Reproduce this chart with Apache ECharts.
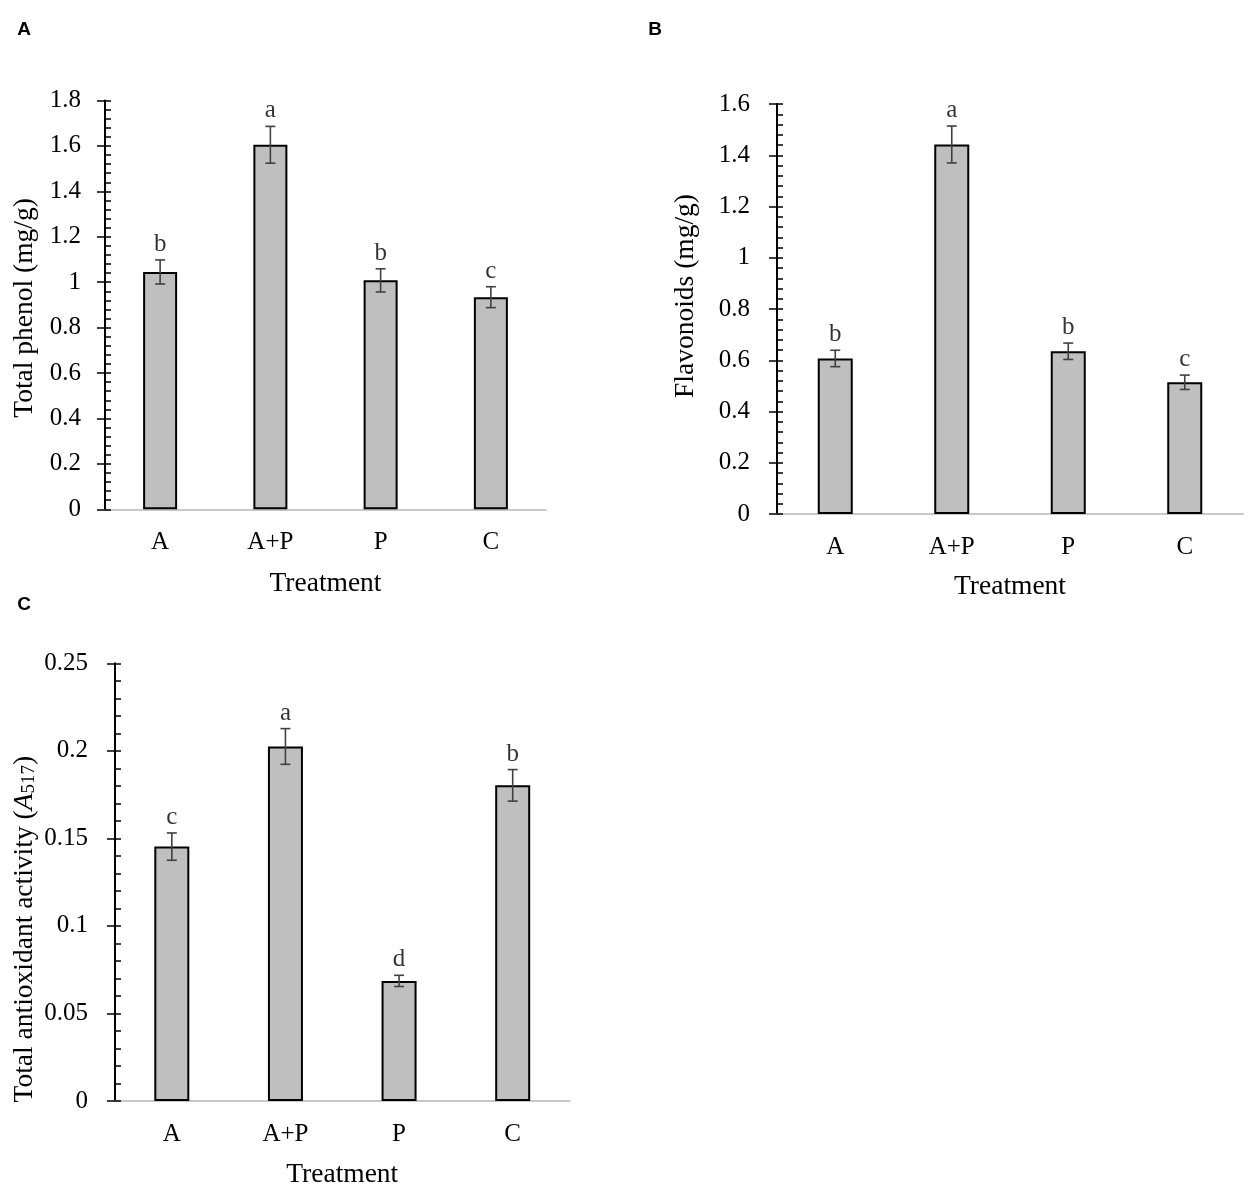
<!DOCTYPE html>
<html><head><meta charset="utf-8">
<script src="https://cdn.jsdelivr.net/npm/echarts@6/dist/echarts.min.js"></script>
<style>html,body{margin:0;padding:0;background:#fff}#c{width:1248px;height:1196px}</style>
</head><body><div id="c"></div>
<script>
// ---- data ----
const categories = ['A', 'A+P', 'P', 'C'];

const phenolMean = [1.045, 1.605, 1.008, 0.934];
const phenolErr = [0.053, 0.081, 0.051, 0.046];
const phenolLetters = ['b', 'a', 'b', 'c'];
const phenolTicks = { min: 0, max: 1.8, interval: 0.2 };

const flavMean = [0.607, 1.442, 0.635, 0.514];
const flavErr = [0.032, 0.072, 0.032, 0.028];
const flavLetters = ['b', 'a', 'b', 'c'];
const flavTicks = { min: 0, max: 1.6, interval: 0.2 };

const antiMean = [0.1453, 0.2025, 0.0686, 0.1803];
const antiErr = [0.0078, 0.0102, 0.0032, 0.0090];
const antiLetters = ['c', 'a', 'd', 'b'];
const antiTicks = { min: 0, max: 0.25, interval: 0.05 };

// ---- layout / style ----
const SERIF = 'Liberation Serif';
const FS = 25;      // tick / category / letter labels
const FT = 27.5;    // axis titles
const panels = [
  { mean: phenolMean, err: phenolErr, letters: phenolLetters, ticks: phenolTicks,
    grid: { left: 105, top: 100.5, width: 441, height: 408.8 },
    barWidth: 34, labelMargin: 24, yName: 'Total phenol (mg/g)', yNameGap: 66, yNamePad: [0, 6, 0, 0],
    xNameGap: 60 },
  { mean: flavMean, err: flavErr, letters: flavLetters, ticks: flavTicks,
    grid: { left: 777, top: 104, width: 466, height: 410 },
    barWidth: 35, labelMargin: 27, yName: 'Flavonoids (mg/g)', yNameGap: 77, yNamePad: [0, 0, 0, 26],
    xNameGap: 59 },
  { mean: antiMean, err: antiErr, letters: antiLetters, ticks: antiTicks,
    grid: { left: 115, top: 663.3, width: 454.5, height: 437.7 },
    barWidth: 35, labelMargin: 27,
    yName: '{n|Total antioxidant activity (}{i|A}{s|517}{n|)}', yNameGap: 76, yNamePad: [0, 94, 0, 0],
    xNameGap: 60 }
];

const option = {
  animation: false,
  backgroundColor: '#fff',
  grid: [], xAxis: [], yAxis: [], series: [],
  graphic: [
    { type: 'text', x: 24, y: 30, style: { text: 'A', font: 'bold 19px "Liberation Sans"', fill: '#000', textAlign: 'center', textVerticalAlign: 'middle' } },
    { type: 'text', x: 655, y: 30, style: { text: 'B', font: 'bold 19px "Liberation Sans"', fill: '#000', textAlign: 'center', textVerticalAlign: 'middle' } },
    { type: 'text', x: 24, y: 605, style: { text: 'C', font: 'bold 19px "Liberation Sans"', fill: '#000', textAlign: 'center', textVerticalAlign: 'middle' } }
  ]
};

panels.forEach((p, i) => {
  option.grid.push(Object.assign({ containLabel: false, outerBoundsMode: 'none' }, p.grid));
  option.xAxis.push({
    type: 'category', gridIndex: i, data: categories,
    axisLine: { show: true, lineStyle: { color: '#c8c8c8', width: 2 } },
    axisTick: { show: false },
    axisLabel: { margin: 21, fontFamily: SERIF, fontSize: FS, color: '#000' },
    splitLine: { show: false },
    name: 'Treatment', nameLocation: 'middle', nameGap: p.xNameGap,
    nameTextStyle: { fontFamily: SERIF, fontSize: FT, color: '#000' }
  });
  const base = {
    type: 'value', gridIndex: i, position: 'left',
    min: p.ticks.min, max: p.ticks.max, interval: p.ticks.interval,
    splitLine: { show: false }, minorSplitLine: { show: false }
  };
  // axis with line, inner major + minor ticks, and the title
  option.yAxis.push(Object.assign({}, base, {
    axisLine: { show: true, onZero: false, lineStyle: { color: '#000', width: 2 } },
    axisTick: { show: true, inside: true, length: 6, lineStyle: { color: '#000', width: 1.5 } },
    minorTick: { show: true, splitNumber: 5, length: 6, lineStyle: { color: '#000', width: 1.5 } },
    axisLabel: { show: false },
    name: p.yName, nameLocation: 'middle', nameGap: p.yNameGap,
    nameTextStyle: {
      fontFamily: SERIF, fontSize: FT, color: '#000', padding: p.yNamePad,
      rich: {
        n: { fontFamily: SERIF, fontSize: FT, color: '#000' },
        i: { fontFamily: SERIF, fontSize: FT, color: '#000', fontStyle: 'italic' },
        s: { fontFamily: SERIF, fontSize: 19, color: '#000', verticalAlign: 'bottom' }
      }
    }
  }));
  // axis with outer major ticks and labels
  option.yAxis.push(Object.assign({}, base, {
    axisLine: { show: false, onZero: false },
    axisTick: { show: true, inside: false, length: 8, lineStyle: { color: '#000', width: 1.5 } },
    minorTick: { show: false },
    axisLabel: { show: true, margin: p.labelMargin, fontFamily: SERIF, fontSize: FS, color: '#000' }
  }));
  const yi = 2 * i;
  option.series.push({
    type: 'bar', xAxisIndex: i, yAxisIndex: yi, data: p.mean, barWidth: p.barWidth,
    itemStyle: { color: '#bfbfbf', borderColor: '#000', borderWidth: 2 },
    silent: true, z: 2
  });
  option.series.push({
    type: 'custom', xAxisIndex: i, yAxisIndex: yi, z: 3, silent: true,
    data: p.mean.map((m, k) => [k, m - p.err[k], m + p.err[k]]),
    renderItem: function (params, api) {
      const x = api.value(0);
      const top = api.coord([x, api.value(2)]);
      const bot = api.coord([x, api.value(1)]);
      const hw = 5;
      const st = { stroke: '#404040', lineWidth: 1.6 };
      return { type: 'group', children: [
        { type: 'line', shape: { x1: top[0], y1: top[1], x2: bot[0], y2: bot[1] }, style: st },
        { type: 'line', shape: { x1: top[0] - hw, y1: top[1], x2: top[0] + hw, y2: top[1] }, style: st },
        { type: 'line', shape: { x1: bot[0] - hw, y1: bot[1], x2: bot[0] + hw, y2: bot[1] }, style: st }
      ] };
    }
  });
  option.series.push({
    type: 'scatter', xAxisIndex: i, yAxisIndex: yi, z: 4, silent: true,
    symbol: 'circle', symbolSize: 0.1, itemStyle: { color: 'rgba(0,0,0,0)' },
    data: p.mean.map((m, k) => [k, m + p.err[k]]),
    label: {
      show: true, position: 'top', distance: 3,
      fontFamily: SERIF, fontSize: FS, color: '#000',
      formatter: (d) => p.letters[d.dataIndex]
    }
  });
});

const chart = echarts.init(document.getElementById('c'), null, { renderer: 'canvas' });
chart.setOption(option);
</script>
</body></html>
